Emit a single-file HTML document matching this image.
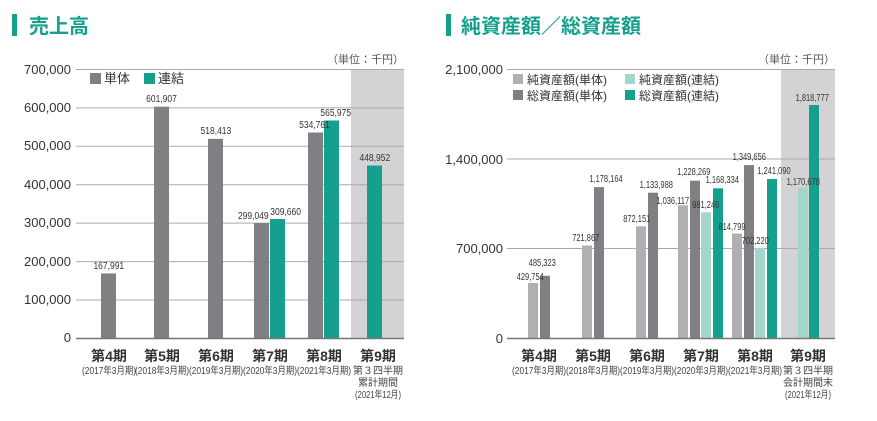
<!DOCTYPE html>
<html><head><meta charset="utf-8"><style>
body{margin:0;background:#fff;}
svg text{font-family:"Liberation Sans","Noto Sans CJK JP",sans-serif;}
</style></head><body>
<svg width="877" height="416" viewBox="0 0 877 416" xmlns="http://www.w3.org/2000/svg">
<!-- LEFT -->
<rect x="12" y="14" width="5" height="22" fill="#14a08c"/>
<text x="29" y="33" font-size="20" fill="#14a08c" font-weight="bold">売上高</text>
<text x="404" y="63" font-size="11" fill="#555" text-anchor="end">（単位：千円）</text>
<rect x="351" y="69" width="53" height="269" fill="#d3d3d5"/>
<g stroke="#aaa" stroke-width="1">
<line x1="76" y1="69.5" x2="404" y2="69.5"/><line x1="76" y1="107.9" x2="404" y2="107.9"/><line x1="76" y1="146.3" x2="404" y2="146.3"/><line x1="76" y1="184.7" x2="404" y2="184.7"/><line x1="76" y1="223.1" x2="404" y2="223.1"/><line x1="76" y1="261.6" x2="404" y2="261.6"/>
</g>
<g font-size="13" fill="#333" text-anchor="end">
<text x="71" y="74">700,000</text><text x="71" y="112">600,000</text><text x="71" y="150">500,000</text><text x="71" y="189">400,000</text><text x="71" y="227">300,000</text><text x="71" y="266">200,000</text><text x="71" y="304">100,000</text><text x="71" y="342">0</text>
</g>
<line x1="76" y1="300" x2="404" y2="300" stroke="#aaa"/>
<rect x="90" y="73" width="11" height="11" fill="#808084"/><text x="104" y="83" font-size="13" fill="#333">単体</text>
<rect x="144" y="73" width="11" height="11" fill="#14a08c"/><text x="158" y="83" font-size="13" fill="#333">連結</text>
<g fill="#808084">
<rect x="101" y="273.4" width="15" height="64.6"/><rect x="154" y="106.7" width="15" height="231.3"/><rect x="208" y="138.8" width="15" height="199.2"/><rect x="254" y="223.1" width="15" height="114.9"/><rect x="308" y="132.5" width="15" height="205.5"/>
</g>
<g fill="#14a08c">
<rect x="270" y="219" width="15" height="119"/><rect x="324" y="120.5" width="15" height="217.5"/><rect x="367" y="165.5" width="15" height="172.5"/>
</g>
<line x1="76" y1="338.5" x2="404" y2="338.5" stroke="#777" stroke-width="1.5"/>
<g font-size="10" fill="#333" text-anchor="middle" transform="scale(0.85,1)">
<text x="128" y="269">167,991</text><text x="190" y="102">601,907</text><text x="254" y="134">518,413</text><text x="298" y="219">299,049</text><text x="336" y="215">309,660</text><text x="370" y="128">534,761</text><text x="395" y="116">565,975</text><text x="441" y="161">448,952</text>
</g>
<g font-size="14" font-weight="bold" fill="#333" text-anchor="middle">
<text x="109" y="361">第4期</text><text x="162" y="361">第5期</text><text x="216" y="361">第6期</text><text x="270" y="361">第7期</text><text x="324" y="361">第8期</text><text x="378" y="361">第9期</text>
</g>
<g font-size="10" fill="#444" text-anchor="middle">
<text x="109" y="374" textLength="54" lengthAdjust="spacingAndGlyphs">(2017年3月期)</text><text x="162" y="374" textLength="54" lengthAdjust="spacingAndGlyphs">(2018年3月期)</text><text x="216" y="374" textLength="54" lengthAdjust="spacingAndGlyphs">(2019年3月期)</text><text x="270" y="374" textLength="54" lengthAdjust="spacingAndGlyphs">(2020年3月期)</text><text x="324" y="374" textLength="54" lengthAdjust="spacingAndGlyphs">(2021年3月期)</text>
<text x="378" y="374">第３四半期</text><text x="378" y="386">累計期間</text><text x="378" y="398" textLength="46" lengthAdjust="spacingAndGlyphs">(2021年12月)</text>
</g>
<!-- RIGHT -->
<rect x="446" y="14" width="5" height="22" fill="#14a08c"/>
<text x="461" y="33" font-size="20" fill="#14a08c" font-weight="bold">純資産額／総資産額</text>
<text x="835" y="63" font-size="11" fill="#555" text-anchor="end">（単位：千円）</text>
<rect x="781" y="69" width="54" height="269" fill="#d3d3d5"/>
<g stroke="#aaa"><line x1="507" y1="69.5" x2="835" y2="69.5"/><line x1="507" y1="159" x2="835" y2="159"/><line x1="507" y1="248.5" x2="835" y2="248.5"/></g>
<g font-size="13" fill="#333" text-anchor="end">
<text x="503" y="74">2,100,000</text><text x="503" y="164">1,400,000</text><text x="503" y="253">700,000</text><text x="503" y="343">0</text>
</g>
<g font-size="12" fill="#333">
<rect x="513" y="74" width="10" height="10" fill="#b0b0b3"/><text x="527" y="84">純資産額(単体)</text>
<rect x="625" y="74" width="10" height="10" fill="#a3d6cc"/><text x="639" y="84">純資産額(連結)</text>
<rect x="513" y="90" width="10" height="10" fill="#808084"/><text x="527" y="100">総資産額(単体)</text>
<rect x="625" y="90" width="10" height="10" fill="#14a08c"/><text x="639" y="100">総資産額(連結)</text>
</g>
<g fill="#b0b0b3"><rect x="528" y="283" width="10" height="55"/><rect x="582" y="245.5" width="10" height="92.5"/><rect x="636" y="226.3" width="10" height="111.7"/><rect x="678" y="205.3" width="10" height="132.7"/><rect x="732" y="233.6" width="10" height="104.4"/></g>
<g fill="#808084"><rect x="540" y="275.8" width="10" height="62.2"/><rect x="594" y="187.1" width="10" height="150.9"/><rect x="648" y="192.7" width="10" height="145.3"/><rect x="690" y="180.7" width="10" height="157.3"/><rect x="744" y="165.1" width="10" height="172.9"/></g>
<g fill="#a3d6cc"><rect x="701" y="212.3" width="10" height="125.7"/><rect x="755" y="248" width="10" height="90"/><rect x="798" y="188" width="10" height="150"/></g>
<g fill="#14a08c"><rect x="713" y="188.3" width="10" height="149.7"/><rect x="767" y="179" width="10" height="159"/><rect x="809" y="105" width="10" height="233"/></g>
<line x1="507" y1="338.5" x2="835" y2="338.5" stroke="#777" stroke-width="1.5"/>
<g font-size="10" fill="#333" text-anchor="middle" transform="scale(0.75,1)">
<text x="707" y="280">429,754</text><text x="723" y="266">485,323</text><text x="781" y="241">721,867</text><text x="808" y="182">1,178,164</text><text x="849" y="222">872,151</text><text x="875" y="188">1,133,988</text><text x="897" y="204">1,036,117</text><text x="925" y="175">1,228,269</text><text x="941" y="208">981,246</text><text x="963" y="183">1,168,334</text><text x="976" y="230">814,799</text><text x="999" y="160">1,349,656</text><text x="1007" y="244">702,220</text><text x="1032" y="174">1,241,090</text><text x="1071" y="185">1,170,678</text><text x="1083" y="101">1,818,777</text>
</g>
<g font-size="14" font-weight="bold" fill="#333" text-anchor="middle">
<text x="539" y="361">第4期</text><text x="593" y="361">第5期</text><text x="647" y="361">第6期</text><text x="701" y="361">第7期</text><text x="755" y="361">第8期</text><text x="808" y="361">第9期</text>
</g>
<g font-size="10" fill="#444" text-anchor="middle">
<text x="539" y="374" textLength="54" lengthAdjust="spacingAndGlyphs">(2017年3月期)</text><text x="593" y="374" textLength="54" lengthAdjust="spacingAndGlyphs">(2018年3月期)</text><text x="647" y="374" textLength="54" lengthAdjust="spacingAndGlyphs">(2019年3月期)</text><text x="701" y="374" textLength="54" lengthAdjust="spacingAndGlyphs">(2020年3月期)</text><text x="755" y="374" textLength="54" lengthAdjust="spacingAndGlyphs">(2021年3月期)</text>
<text x="808" y="374">第３四半期</text><text x="808" y="386">会計期間末</text><text x="808" y="398" textLength="46" lengthAdjust="spacingAndGlyphs">(2021年12月)</text>
</g>
</svg>
</body></html>
